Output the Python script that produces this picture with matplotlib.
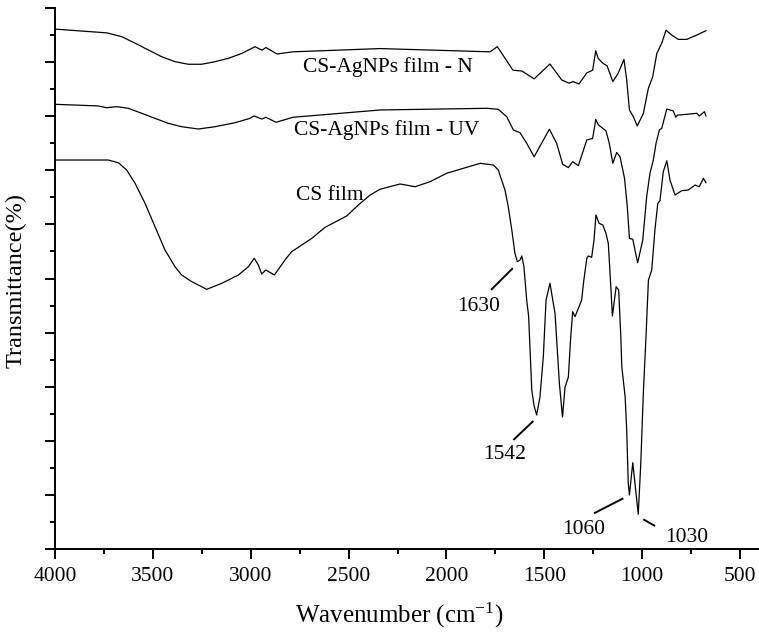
import matplotlib
matplotlib.use("Agg")
import matplotlib.pyplot as plt
from matplotlib.ticker import MultipleLocator

plt.rcParams['font.family'] = ['Liberation Serif', 'DejaVu Serif']
plt.rcParams['mathtext.fontset'] = 'custom'
plt.rcParams['mathtext.rm'] = 'Liberation Serif'
plt.rcParams['mathtext.it'] = 'Liberation Serif:italic'

# ---- data (wavenumber cm-1, transmittance %) ----
n_wn = [4000, 3734, 3659, 3591, 3523, 3455, 3387, 3319, 3251, 3182, 3114, 3046,
        2978, 2942, 2922, 2866,
        2784, 2339, 1777, 1740, 1660, 1614, 1552, 1471, 1411, 1374, 1353, 1323,
        1283, 1253, 1237, 1225, 1201, 1179, 1150, 1123, 1093, 1079, 1065, 1045,
        1025, 994, 968, 946, 925, 900, 878, 849, 815, 772, 721, 674]
n_t = [96.1, 95.4, 94.7, 93.5, 92.24, 91.0, 90.08, 89.6, 89.6, 90.08, 90.7, 91.6,
       92.85, 92.2, 92.7, 91.5,
       91.9, 92.5, 91.9, 92.85, 88.5, 88.35, 86.9, 89.65, 86.7, 86.1, 86.4, 85.95,
       88.0, 88.5, 92.1, 90.7, 89.8, 89.3, 86.4, 87.9, 90.5, 86.7, 81.15, 79.9,
       78.2, 80.5, 85.2, 87.3, 91.6, 93.5, 95.9, 95.0, 94.2, 94.2, 95.0, 95.8]

uv_wn = [4000, 3780, 3736, 3685, 3625, 3557, 3489, 3421, 3353, 3268, 3182, 3080,
         3004, 2983, 2942, 2922, 2871,
         2784, 2339, 1794, 1735, 1692, 1658, 1624, 1590, 1552, 1474, 1437, 1406,
         1377, 1355, 1326, 1283, 1253, 1237, 1224, 1185, 1168, 1150, 1130, 1113,
         1090, 1076, 1065, 1048, 1023, 997, 977, 960, 943, 929, 912, 900, 874,
         841, 828, 820, 772, 721, 708, 682, 674]
uv_t = [82.2, 81.9, 81.57, 81.76, 81.46, 80.54, 79.6, 78.68, 78.06, 77.63, 78.06, 78.8,
        79.6, 80.04, 79.48, 79.8, 78.87,
        79.8, 81.15, 81.46, 81.28, 79.9, 77.45, 76.95, 75.0, 72.5, 77.6, 75.0, 71.1,
        70.5, 71.6, 70.85, 75.6, 75.9, 79.4, 78.4, 77.3, 75.0, 71.3, 73.3, 72.5,
        68.5, 63.3, 57.4, 57.25, 52.9, 57.1, 65.1, 69.45, 71.9, 75.0, 77.45, 77.76, 81.33,
        80.96, 79.8, 80.2, 80.35, 80.54, 80.04, 80.83, 80.04]

cs_wn = [4000, 3728, 3676, 3634, 3591, 3540, 3489, 3438, 3387, 3353, 3301, 3225, 3148, 3063,
         3012, 2982, 2961, 2944, 2923, 2879, 2825, 2791, 2688, 2620, 2510, 2450,
         2390, 2339, 2237, 2160, 2084, 1999, 1931, 1828, 1760, 1735, 1701, 1684,
         1666, 1650, 1638, 1624, 1615, 1604, 1590, 1580, 1564, 1552, 1539, 1522,
         1505, 1491, 1471, 1445, 1423, 1407, 1394, 1377, 1366, 1355, 1343, 1309,
         1300, 1283, 1275, 1258, 1246, 1236, 1220, 1201, 1185, 1173, 1164, 1152,
         1133, 1120, 1109, 1104, 1087, 1079, 1071, 1065, 1048, 1020, 1007, 994,
         980, 968, 951, 934, 920, 909, 892, 874, 858, 832, 798, 764, 730, 708,
         687, 674]
cs_t = [71.9, 71.9, 71.4, 70.06, 67.6, 63.9, 59.57, 55.27, 52.18, 50.65, 49.41, 48.0, 49.11, 50.65,
        52.18, 53.73, 52.5, 50.83, 51.57, 50.65, 53.42, 54.95, 57.43, 59.46, 61.55, 63.59,
        65.43, 66.5, 67.47, 66.97, 67.89, 69.45, 70.18, 71.29, 70.98, 70.06, 66.36, 63.27,
        58.96, 54.66, 53.1, 53.42, 54.16, 52.18, 46.03, 43.0, 29.39, 26.43, 24.77, 28.15,
        35.55, 46.03, 49.11, 43.5, 30.63, 24.4, 29.94, 31.79, 38.63, 43.86, 42.94, 46.03,
        49.11, 53.73, 54.16, 53.92, 57.12, 61.74, 60.2, 59.89, 58.35, 56.51, 50.96, 43.07,
        48.48, 47.87, 39.24, 33.7, 28.15, 22.0, 12.14, 9.98, 15.95, 6.41, 15.84, 28.78,
        39.56, 49.72, 51.57, 59.28, 63.9, 64.38, 69.74, 71.77, 68.21, 65.43, 66.23, 66.36, 67.28, 66.97,
        68.52, 67.71]

curve_labels = ["CS-AgNPs film - N", "CS-AgNPs film - UV", "CS film"]
label_pos = [(2298, 88.2), (2307, 76.5), (2595, 64.6)]

peak_labels = ["1630", "1542", "1060", "1030"]
peak_lines = [((1661, 51.9), (1772, 47.9)),
              ((1556, 23.66), (1658, 20.15)),
              ((1096, 9.37), (1246, 6.6)),
              ((994, 5.49), (934, 4.25))]
peak_text = [(1834, 44.0), (1701, 16.6), (1301, 2.7), (774, 1.24)]

xticks = [4000, 3500, 3000, 2500, 2000, 1500, 1000, 500]

# ---- figure ----
fig = plt.figure(figsize=(7.59, 6.33), dpi=100)
ax = fig.add_axes([55/759, 1-549/633, (759-55)/759, (549-8)/633])

for wn, t in [(n_wn, n_t), (uv_wn, uv_t), (cs_wn, cs_t)]:
    ax.plot(wn, t, color='black', lw=0.9, solid_joinstyle='round')

for lab, (x, y) in zip(curve_labels, label_pos):
    ax.text(x, y, lab, ha='center', va='baseline', fontsize=15.5)

for lab, ((x1, y1), (x2, y2)), (tx, ty) in zip(peak_labels, peak_lines, peak_text):
    ax.plot([x1, x2], [y1, y2], color='black', lw=1.4, solid_capstyle='butt')
    ax.text(tx, ty, lab, ha='center', va='baseline', fontsize=15.5)

ax.set_xlim(4000, 403)
ax.set_ylim(0, 100)
ax.set_xticks(xticks)
ax.set_xticklabels([str(v) for v in xticks], fontsize=15.5)
ax.xaxis.set_minor_locator(MultipleLocator(250))
ax.yaxis.set_major_locator(MultipleLocator(10))
ax.yaxis.set_minor_locator(MultipleLocator(5))
ax.set_yticklabels([])
ax.tick_params(which='major', direction='out', length=7.2, width=1.4, pad=6)
ax.tick_params(which='minor', direction='out', length=3.6, width=1.4)
ax.tick_params(axis='y', which='both', labelleft=False)
for s in ['top', 'right']:
    ax.spines[s].set_visible(False)
for s in ['left', 'bottom']:
    ax.spines[s].set_linewidth(1.4)

fig.text(399/759, 1-623/633, "Wavenumber (cm$^{\\mathrm{-1}}$)", ha='center',
         va='baseline', fontsize=18)
fig.text(16/759, 1-280/633, "Transmittance(%)", ha='center', va='center',
         rotation=90, fontsize=17.5)

fig.savefig("out.png", dpi=100)
